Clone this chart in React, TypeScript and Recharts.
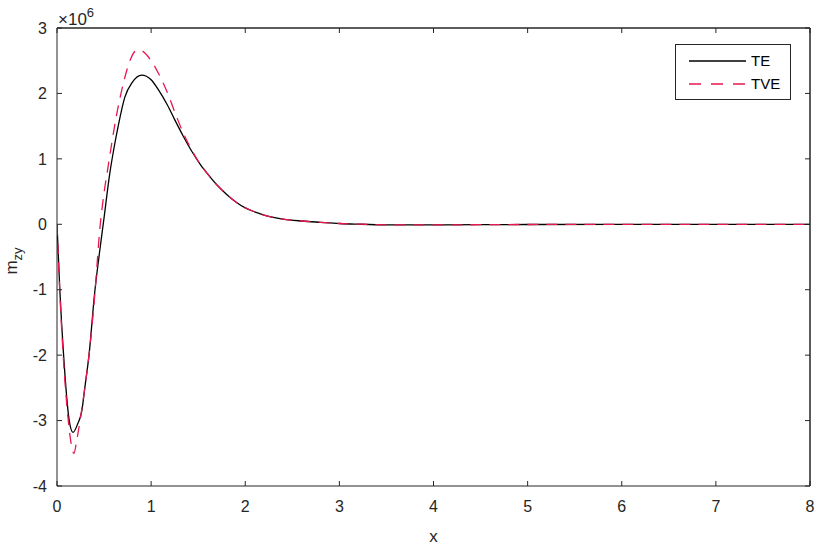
import React from "react";
import { LineChart, Line, XAxis, YAxis, ReferenceLine } from "recharts";

// values in units of 1e6
const teX = [0, 0.03, 0.07, 0.13, 0.17, 0.22, 0.26, 0.3, 0.34, 0.4, 0.45, 0.5, 0.56, 0.6, 0.65, 0.72, 0.8, 0.9, 1.0, 1.08, 1.17, 1.25, 1.34, 1.43, 1.52, 1.6, 1.7, 1.8, 1.9, 2.0, 2.1, 2.2, 2.4, 2.6, 2.8, 3.0, 3.2, 3.5, 4.0, 4.5, 5, 6, 7, 8];
const teY = [0, -1.0, -2.0, -3.0, -3.18, -3.05, -2.88, -2.45, -2.0, -1.05, -0.45, 0.1, 0.77, 1.12, 1.5, 1.94, 2.17, 2.28, 2.21, 2.05, 1.83, 1.6, 1.35, 1.12, 0.92, 0.77, 0.6, 0.46, 0.34, 0.25, 0.19, 0.14, 0.08, 0.05, 0.03, 0.012, 0.002, -0.008, -0.01, -0.006, -0.003, 0, 0, 0];

const tveX = [0, 0.03, 0.07, 0.12, 0.15, 0.18, 0.21, 0.25, 0.3, 0.34, 0.4, 0.457, 0.5, 0.545, 0.6, 0.634, 0.68, 0.72, 0.78, 0.85, 0.9, 0.99, 1.08, 1.17, 1.25, 1.34, 1.43, 1.52, 1.6, 1.7, 1.8, 1.9, 2.0, 2.1, 2.2, 2.4, 2.6, 2.8, 3.0, 3.2, 3.5, 4.0, 4.5, 5, 6, 7, 8];
const tveY = [0, -1.05, -2.1, -3.0, -3.35, -3.5, -3.3, -2.95, -2.45, -2.0, -1.1, -0.04, 0.48, 0.9, 1.4, 1.68, 2.0, 2.24, 2.52, 2.66, 2.65, 2.52, 2.3, 2.02, 1.72, 1.4, 1.14, 0.92, 0.77, 0.6, 0.46, 0.34, 0.25, 0.19, 0.14, 0.08, 0.05, 0.03, 0.012, 0.002, -0.008, -0.01, -0.006, -0.003, 0, 0, 0];

const xTicks = [0, 1, 2, 3, 4, 5, 6, 7, 8];
const yTicks = [-4, -3, -2, -1, 0, 1, 2, 3];

const teData = teX.map((x, i) => ({ x, y: teY[i] }));
const tveData = tveX.map((x, i) => ({ x, y: tveY[i] }));

const AXIS = "#262626";
const RED = "#e8174f";
const FONT = "'Liberation Sans', Arial, sans-serif";

const noTick = () => <g />;

export default function App() {
  return (
    <div style={{ position: "absolute", left: 0, top: 0, width: 816, height: 545, background: "#fff", fontFamily: FONT }}>
      <LineChart
        width={816}
        height={545}
        margin={{ top: 27, right: 5, bottom: 0, left: 0 }}
        style={{ fontFamily: FONT }}
      >
        <XAxis
          xAxisId={0}
          type="number"
          dataKey="x"
          domain={[0, 8]}
          ticks={xTicks}
          allowDataOverflow
          height={59}
          tickSize={-5}
          tickMargin={20}
          stroke={AXIS}
          tick={{ fill: AXIS, fontSize: 16 }}
          label={{ value: "x", position: "insideBottom", offset: 3, fill: AXIS, fontSize: 17 }}
        />
        <XAxis
          xAxisId="top"
          orientation="top"
          type="number"
          dataKey="x"
          domain={[0, 8]}
          ticks={xTicks}
          allowDataOverflow
          height={1}
          tickSize={-5}
          stroke={AXIS}
          tick={noTick}
        />
        <YAxis
          yAxisId={0}
          type="number"
          domain={[-4, 3]}
          ticks={yTicks}
          allowDataOverflow
          width={57}
          tickSize={-5}
          tickMargin={15}
          stroke={AXIS}
          tick={{ fill: AXIS, fontSize: 16 }}
          label={({ viewBox }: any) => {
            const cx = 17;
            const cy = viewBox.y + viewBox.height / 2 + 4;
            return (
              <text
                x={cx}
                y={cy}
                transform={`rotate(-90, ${cx}, ${cy})`}
                textAnchor="middle"
                fill={AXIS}
                fontSize={17}
                fontFamily={FONT}
              >
                m
                <tspan fontSize={13} dy={5}>zy</tspan>
              </text>
            );
          }}
        />
        <YAxis
          yAxisId="right"
          orientation="right"
          type="number"
          domain={[-4, 3]}
          ticks={yTicks}
          allowDataOverflow
          width={1}
          tickSize={-5}
          stroke={AXIS}
          tick={noTick}
        />
        <ReferenceLine xAxisId={0} yAxisId={0} y={3} stroke={AXIS} ifOverflow="extendDomain" />
        <ReferenceLine xAxisId={0} yAxisId={0} x={8} stroke={AXIS} ifOverflow="extendDomain" />
        {/* invisible series so the top / right axes get drawn with their inner ticks */}
        <Line
          data={teData}
          dataKey="y"
          xAxisId="top"
          yAxisId="right"
          stroke="none"
          dot={false}
          activeDot={false}
          legendType="none"
          isAnimationActive={false}
        />
        <Line
          data={teData}
          dataKey="y"
          name="TE"
          xAxisId={0}
          yAxisId={0}
          type="monotone"
          stroke="#000"
          strokeWidth={1.3}
          dot={false}
          isAnimationActive={false}
        />
        <Line
          data={tveData}
          dataKey="y"
          name="TVE"
          xAxisId={0}
          yAxisId={0}
          type="monotone"
          stroke={RED}
          strokeWidth={1.3}
          strokeDasharray="11 8"
          dot={false}
          isAnimationActive={false}
        />
      </LineChart>
      <div style={{ position: "absolute", left: 58, top: 4, fontSize: 17, color: AXIS, lineHeight: "20px" }}>
        ×10<sup style={{ fontSize: 13, position: "relative", top: -1 }}>6</sup>
      </div>
      <div
        style={{
          position: "absolute",
          left: 675,
          top: 44,
          width: 116,
          height: 56,
          border: `1px solid ${AXIS}`,
          background: "#fff",
          boxSizing: "border-box",
        }}
      >
        <svg width={114} height={54} style={{ display: "block" }}>
          <line x1={13} y1={16} x2={70} y2={16} stroke="#000" strokeWidth={1.3} />
          <text x={75} y={21} fontSize={15} fontFamily={FONT} fill="#000">TE</text>
          <line x1={13} y1={39} x2={70} y2={39} stroke={RED} strokeWidth={1.3} strokeDasharray="12 10" />
          <text x={75} y={44} fontSize={15} fontFamily={FONT} fill="#000">TVE</text>
        </svg>
      </div>
    </div>
  );
}
